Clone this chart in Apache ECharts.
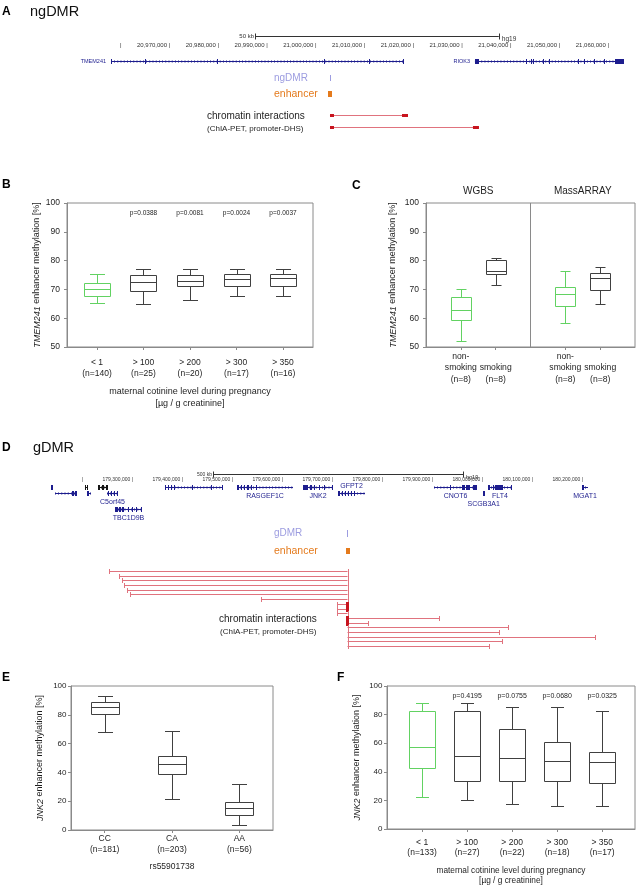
<!DOCTYPE html>
<html>
<head>
<meta charset="utf-8">
<title>ngDMR / gDMR</title>
<script src="https://cdn.jsdelivr.net/npm/echarts@6.0.0/dist/echarts.min.js"></script>
<style>
  html, body { margin: 0; padding: 0; background: #fff; }
  #chart { width: 636px; height: 886px; }
</style>
</head>
<body>
<div id="chart"></div>
<script>
// ---------- A: ngDMR locus (hg19) ----------
const aCoordTicks = [20960000, 20970000, 20980000, 20990000, 21000000, 21010000, 21020000, 21030000, 21040000, 21050000, 21060000];
const aCoordLabels = ['', '20,970,000', '20,980,000', '20,990,000', '21,000,000', '21,010,000', '21,020,000', '21,030,000', '21,040,000', '21,050,000', '21,060,000'];
const aScaleBar = [20987400, 21037400];
const aScaleLabel = '50 kb';
const aGeneName = ['TMEM241', 'RIOK3'];
const aGeneStart = [20957850, 21032510];
const aGeneEnd = [21017950, 21063080];
const aGeneExons = [
  [[20957850, 20958050], [20964820, 20965020], [20979590, 20979790], [21001540, 21001740], [21010770, 21010970], [21017750, 21017950]],
  [[21032510, 21033330], [21042970, 21043170], [21044000, 21044200], [21044410, 21044610], [21046460, 21046660], [21047690, 21047890],
   [21053640, 21053840], [21054870, 21055070], [21056920, 21057120], [21058970, 21059170], [21061230, 21063080]]
];
const aDmr = [21002700, 21002900];
const aEnhancer = [21002400, 21003200];
const aLinkStart = [21002770, 21002770];
const aLinkEnd = [21018770, 21033330];

// ---------- B: TMEM241 enhancer vs cotinine ----------
const bCats = ['< 1', '> 100', '> 200', '> 300', '> 350'];
const bN = ['(n=140)', '(n=25)', '(n=20)', '(n=17)', '(n=16)'];
const bP = ['', 'p=0.0388', 'p=0.0081', 'p=0.0024', 'p=0.0037'];
// min, q1, median, q3, max
const bStats = [
  [65.3, 67.7, 70.3, 72.3, 75.2],
  [64.8, 69.4, 72.6, 74.9, 77.0],
  [66.3, 71.2, 72.9, 74.9, 77.0],
  [67.8, 71.3, 73.5, 75.5, 77.0],
  [67.6, 71.2, 74.0, 75.5, 77.0]
];

// ---------- C: WGBS / MassARRAY ----------
const cGroups = ['WGBS', 'MassARRAY'];
const cCats = ['non-\nsmoking', '\nsmoking', 'non-\nsmoking', '\nsmoking'];
const cN = ['(n=8)', '(n=8)', '(n=8)', '(n=8)'];
const cSlots = [1, 2, 4, 5];
const cStats = [
  [52.2, 59.4, 63.0, 67.2, 70.0],
  [71.4, 75.2, 76.3, 80.2, 80.9],
  [58.3, 64.4, 68.4, 70.7, 76.4],
  [64.8, 69.8, 73.8, 75.8, 77.8]
];

// ---------- D: gDMR locus (hg19) ----------
const dCoordTicks = [179200000, 179300000, 179400000, 179500000, 179600000, 179700000, 179800000, 179900000, 180000000, 180100000, 180200000];
const dCoordLabels = ['', '179,300,000', '179,400,000', '179,500,000', '179,600,000', '179,700,000', '179,800,000', '179,900,000', '180,000,000', '180,100,000', '180,200,000'];
const dScaleBar = [179460000, 179960000];
const dScaleLabel = '500 kb';
const dGeneName = ['', '', '', '', '', 'C5orf45', 'TBC1D9B', '', 'RASGEF1C', 'JNK2', 'GFPT2', 'CNOT6', 'SCGB3A1', 'FLT4', 'MGAT1'];
const dGeneStart = [179136000, 179144000, 179204000, 179208000, 179230000, 179248000, 179264000, 179364000, 179508000, 179640000, 179710000, 179902000, 180000000, 180010000, 180198000];
const dGeneEnd = [179140000, 179188000, 179210000, 179216000, 179250000, 179270000, 179318000, 179480000, 179620000, 179700000, 179764000, 179988000, 180003000, 180058000, 180210000];
const dGeneRow = [0, 1, 0, 1, 0, 1, 4, 0, 0, 0, 1, 0, 1, 0, 0];
const dGeneExons = [
  [[179136000, 179139000]],
  [[179178000, 179181000], [179184000, 179188000]],
  [[179204000, 179206000], [179208000, 179210000]],
  [[179208000, 179212000]],
  [[179230000, 179234000], [179238000, 179241000], [179246000, 179250000]],
  [[179250000, 179252000], [179256000, 179257000], [179261000, 179262000], [179268000, 179270000]],
  [[179264000, 179270000], [179272000, 179276000], [179278000, 179282000], [179290000, 179292000], [179298000, 179300000], [179306000, 179307000], [179316000, 179318000]],
  [[179364000, 179366000], [179370000, 179372000], [179376000, 179378000], [179382000, 179383000], [179418000, 179419000], [179456000, 179457000], [179478000, 179480000]],
  [[179508000, 179511000], [179516000, 179518000], [179522000, 179524000], [179528000, 179532000], [179536000, 179537000], [179546000, 179547000]],
  [[179640000, 179650000], [179654000, 179657000], [179662000, 179664000], [179672000, 179674000], [179682000, 179684000], [179698000, 179700000]],
  [[179710000, 179714000], [179718000, 179720000], [179724000, 179726000], [179730000, 179732000], [179736000, 179738000], [179742000, 179744000]],
  [[179934000, 179935000], [179958000, 179963000], [179966000, 179974000], [179980000, 179988000]],
  [[180000000, 180003000]],
  [[180010000, 180014000], [180020000, 180022000], [180024000, 180040000], [180056000, 180058000]],
  [[180198000, 180202000]]
];
const dDmr = [179728500, 179729500];
const dEnhancer = [179725000, 179733000];
const dLinkStart = [179252000, 179272000, 179278000, 179282000, 179288000, 179294000, 179556000, 179708000, 179708000, 179708000,
                    179729000, 179729000, 179729000, 179729000, 179729000, 179729000, 179729000];
const dLinkEnd = [179729000, 179729000, 179729000, 179729000, 179729000, 179729000, 179729000, 179729000, 179729000, 179729000,
                  179912000, 179770000, 180050000, 180032000, 180224000, 180038000, 180012000];
const dLinkAnchor = [0, 0, 0, 0, 0, 0, 0, 179729000, 179729000, 0, 179729000, 179729000, 0, 0, 0, 0, 0];

// ---------- E: JNK2 enhancer vs rs55901738 ----------
const eCats = ['CC', 'CA', 'AA'];
const eN = ['(n=181)', '(n=203)', '(n=56)'];
const eStats = [
  [68.1, 80.3, 85.6, 88.7, 93.1],
  [21.3, 38.9, 45.6, 51.4, 68.5],
  [3.5, 10.4, 15.0, 19.2, 31.9]
];

// ---------- F: JNK2 enhancer vs cotinine ----------
const fCats = ['< 1', '> 100', '> 200', '> 300', '> 350'];
const fN = ['(n=133)', '(n=27)', '(n=22)', '(n=18)', '(n=17)'];
const fP = ['', 'p=0.4195', 'p=0.0755', 'p=0.0680', 'p=0.0325'];
const fStats = [
  [22.1, 42.8, 57.2, 82.8, 87.9],
  [20.5, 33.5, 50.7, 82.8, 87.9],
  [17.7, 33.5, 49.5, 70.2, 85.1],
  [16.3, 33.5, 47.9, 60.7, 85.1],
  [15.8, 31.9, 47.0, 53.7, 82.3]
];

// ---------- styling ----------
const FONT = '"Liberation Sans", Arial, Helvetica, sans-serif';
const TXT = '#1e1e1e', INK = '#404040', FRAME = '#8a8a8a', GREEN = '#62d262';
const NAVY = '#1d1d8e', LINK = '#e0737e', LINK_DARK = '#c8141e', DMR = '#9c9ce0', ENH = '#e47a1c';
const px = v => Math.round(v) + 0.5;

const grid = [], xAxis = [], yAxis = [], series = [];

function addGrid(box, xa, ya) {
  const g = grid.push(Object.assign({ show: false, outerBoundsMode: 'none', containLabel: false }, box)) - 1;
  const x = xAxis.push(Object.assign({ gridIndex: g }, xa)) - 1;
  const y = yAxis.push(Object.assign({ gridIndex: g }, ya)) - 1;
  return { g, x, y };
}

function track(box, dom, lanes, xa) {
  return addGrid(box,
    Object.assign({ type: 'value', min: dom[0], max: dom[1], show: false, splitLine: { show: false } }, xa || {}),
    { type: 'value', min: -0.5, max: lanes - 0.5, inverse: true, show: false, splitLine: { show: false } });
}

function custom(ax, data, renderItem, extra) {
  series.push(Object.assign({
    type: 'custom', coordinateSystem: 'cartesian2d', xAxisIndex: ax.x, yAxisIndex: ax.y,
    data, renderItem, silent: true, clip: false, animation: false
  }, extra || {}));
}

function coordAxis(ticks, labels, fs, margin) {
  return {
    show: true, position: 'top',
    axisLine: { show: false }, axisTick: { show: false }, splitLine: { show: false },
    axisLabel: {
      show: true, customValues: ticks, margin, fontSize: fs, color: '#333', align: 'right', hideOverlap: false,
      formatter: v => { const l = labels[ticks.indexOf(v)]; return (l ? l + ' ' : '') + '|'; }
    }
  };
}

function rulerItem(label, fs) {
  return function (params, api) {
    const a = api.coord([api.value(0), 0]), b = api.coord([api.value(1), 0]);
    const y = px(a[1]), st = { stroke: '#333', lineWidth: 1 };
    return { type: 'group', children: [
      { type: 'line', shape: { x1: a[0], y1: y, x2: b[0], y2: y }, style: st },
      { type: 'line', shape: { x1: px(a[0]), y1: y - 3, x2: px(a[0]), y2: y + 3 }, style: st },
      { type: 'line', shape: { x1: px(b[0]), y1: y - 3, x2: px(b[0]), y2: y + 3 }, style: st },
      { type: 'text', x: a[0] - 1, y: y, style: { text: label, align: 'right', verticalAlign: 'middle', fontSize: fs, fontFamily: FONT, fill: '#333' } },
      { type: 'text', x: b[0] + 3, y: y + 3, style: { text: 'hg19', align: 'left', verticalAlign: 'middle', fontSize: fs + 0.5, fontFamily: FONT, fill: '#333' } }
    ]};
  };
}

function geneItem(names, exons, opt) {
  return function (params, api) {
    const i = params.dataIndex;
    const a = api.coord([api.value(0), api.value(2)]), b = api.coord([api.value(1), api.value(2)]);
    const y = px(a[1]);
    const ink = (opt.ink && opt.ink[i]) || NAVY;
    const kids = [
      { type: 'line', shape: { x1: a[0], y1: y, x2: b[0], y2: y }, style: { stroke: ink, lineWidth: 1 } },
      { type: 'line', shape: { x1: a[0], y1: y, x2: b[0], y2: y }, style: { stroke: ink, lineWidth: 3, lineDash: [0.8, 2.4], opacity: 0.6 } }
    ];
    exons[i].forEach(e => {
      const s = api.coord([e[0], 0])[0], t = api.coord([e[1], 0])[0];
      kids.push({ type: 'rect', shape: { x: Math.round(s), y: y - opt.h / 2, width: Math.max(1, Math.round(t - s)), height: opt.h }, style: { fill: ink } });
    });
    if (names[i]) {
      const side = opt.side(i);
      let tx = (a[0] + b[0]) / 2, ty = y, align = 'center';
      if (side === 'left') { tx = a[0] - 5; align = 'right'; }
      else if (side === 'above') ty = y - 7;
      else if (side === 'below2') ty = y + 11;
      else ty = y + 9;
      kids.push({ type: 'text', x: tx, y: ty, style: { text: names[i], align, verticalAlign: 'middle', fontSize: opt.fs, fontFamily: FONT, fill: NAVY } });
    }
    return { type: 'group', children: kids };
  };
}

function markItem(color, h) {
  return function (params, api) {
    const a = api.coord([api.value(0), 0]), b = api.coord([api.value(1), 0]);
    return { type: 'rect', shape: { x: Math.round(a[0]), y: a[1] - h / 2, width: Math.max(1, Math.round(b[0] - a[0])), height: h }, style: { fill: color } };
  };
}

function linkItem(mode, anchors) {
  return function (params, api) {
    const i = params.dataIndex;
    const a = api.coord([api.value(0), api.value(2)]), b = api.coord([api.value(1), api.value(2)]);
    const y = px(a[1]);
    const kids = [{ type: 'line', shape: { x1: a[0], y1: y, x2: b[0], y2: y }, style: { stroke: LINK, lineWidth: 1 } }];
    if (mode === 'thick') {
      kids.push({ type: 'rect', shape: { x: a[0], y: y - 1.5, width: 4, height: 3 }, style: { fill: LINK_DARK } });
      kids.push({ type: 'rect', shape: { x: b[0] - 6, y: y - 1.5, width: 6, height: 3 }, style: { fill: LINK_DARK } });
    } else {
      [a[0], b[0]].forEach(x => kids.push({ type: 'line', shape: { x1: px(x), y1: y - 2.5, x2: px(x), y2: y + 2.5 }, style: { stroke: LINK, lineWidth: 1 } }));
      if (anchors[i]) {
        const ax = api.coord([anchors[i], 0])[0];
        kids.push({ type: 'rect', shape: { x: ax - 1.5, y: y - 2.5, width: 3, height: 5 }, style: { fill: LINK_DARK } });
      }
    }
    return { type: 'group', children: kids };
  };
}

function boxItem(boxW, capW, greenIdx) {
  return function (params, api) {
    const x = api.value(0);
    const c = [1, 2, 3, 4, 5].map(d => api.coord([x, api.value(d)]));
    const cx = px(c[0][0]);
    const lo = px(c[0][1]), q1 = px(c[1][1]), md = px(c[2][1]), q3 = px(c[3][1]), hi = px(c[4][1]);
    const st = { stroke: greenIdx.indexOf(params.dataIndex) >= 0 ? GREEN : INK, fill: 'none', lineWidth: 1 };
    const L = cx - boxW / 2, R = cx + boxW / 2;
    const ln = (x1, y1, x2, y2) => ({ type: 'line', shape: { x1, y1, x2, y2 }, style: st });
    return { type: 'group', children: [
      { type: 'rect', shape: { x: L, y: q3, width: boxW, height: q1 - q3 }, style: st },
      ln(L, md, R, md), ln(cx, q3, cx, hi), ln(cx, q1, cx, lo),
      ln(cx - capW / 2, hi, cx + capW / 2, hi), ln(cx - capW / 2, lo, cx + capW / 2, lo)
    ]};
  };
}

function valY(min, max, interval, fs, margin, name, gap) {
  return {
    type: 'value', min, max, interval,
    axisLine: { show: true, lineStyle: { color: FRAME, width: 1 } },
    axisTick: { show: true, inside: false, length: 3, lineStyle: { color: FRAME } },
    axisLabel: { color: TXT, fontSize: fs, margin, fontFamily: FONT },
    splitLine: { show: false },
    name, nameLocation: 'middle', nameGap: gap, nameRotate: 90,
    nameTextStyle: { color: TXT, fontSize: 9, fontFamily: FONT, rich: { i: { fontStyle: 'italic', fontSize: 9, fontFamily: FONT, color: TXT } } }
  };
}

function catX(min, max, slots, fmt, o) {
  return {
    type: 'value', min, max,
    axisLine: { show: true, lineStyle: { color: FRAME, width: 1 } },
    axisTick: { show: true, customValues: slots, length: 3, lineStyle: { color: FRAME } },
    axisLabel: { customValues: o.labelSlots || slots, formatter: fmt, color: TXT, fontSize: o.fs, lineHeight: o.lh, margin: o.margin, fontFamily: FONT, hideOverlap: false },
    splitLine: { show: false },
    name: o.name || '', nameLocation: 'middle', nameGap: o.gap || 0,
    nameTextStyle: { color: TXT, fontSize: o.nfs || 9, lineHeight: o.nlh || 12, fontFamily: FONT }
  };
}

// extra label-only axis laid over a grid (for p-values, group titles, crowded labels)
function extraLabels(ax, pos, min, max, slots, fmt, o) {
  xAxis.push({
    gridIndex: ax.g, type: 'value', position: pos, min, max,
    axisLine: { show: false }, axisTick: { show: false }, splitLine: { show: false },
    axisLabel: { inside: !!o.inside, customValues: slots, formatter: fmt, fontSize: o.fs, lineHeight: o.lh, margin: o.margin, color: TXT, fontFamily: FONT, hideOverlap: false }
  });
}

const slotOf = arr => arr.map((_, i) => i + 1);
const boxData = (stats, slots) => stats.map((s, i) => [slots[i]].concat(s));

// ---------- panel A tracks ----------
const aDom = [20955000, 21065000];
const aBox = { left: 97.1, width: 536.25 };
const aRuler = track(Object.assign({ top: 31, height: 10 }, aBox), aDom, 1);
custom(aRuler, [aScaleBar], rulerItem(aScaleLabel, 6));
const aGenes = track(Object.assign({ top: 56, height: 10 }, aBox), aDom, 1, coordAxis(aCoordTicks, aCoordLabels, 6, 8));
custom(aGenes, aGeneName.map((n, i) => [aGeneStart[i], aGeneEnd[i], 0]),
  geneItem(aGeneName, aGeneExons, { h: 5, fs: 5.5, side: () => 'left' }), { encode: { x: [0, 1], y: 2 } });
const aDmrT = track(Object.assign({ top: 74, height: 8 }, aBox), aDom, 1);
custom(aDmrT, [aDmr], markItem(DMR, 6));
const aEnhT = track(Object.assign({ top: 90, height: 8 }, aBox), aDom, 1);
custom(aEnhT, [aEnhancer], markItem(ENH, 6));
const aLinks = track(Object.assign({ top: 109, height: 24 }, aBox), aDom, 2);
custom(aLinks, aLinkStart.map((s, i) => [s, aLinkEnd[i], i]), linkItem('thick'), { encode: { x: [0, 1], y: 2 } });

// ---------- panel B ----------
const B = addGrid({ left: 67, top: 203, width: 246, height: 144, show: true, borderColor: FRAME, borderWidth: 1 },
  catX(0.355, 5.645, slotOf(bCats), v => bCats[v - 1] + '\n' + bN[v - 1],
    { fs: 8.5, lh: 11, margin: 10.5, name: 'maternal cotinine level during pregnancy\n[\u00b5g / g creatinine]', gap: 39, nfs: 9, nlh: 12 }),
  valY(50, 100, 10, 8.5, 7, '{i|TMEM241} enhancer methylation [%]', 25.5));
extraLabels(B, 'top', 0.355, 5.645, [2, 3, 4, 5], v => bP[v - 1], { fs: 6.5, margin: 7, inside: true });
custom(B, boxData(bStats, slotOf(bStats)), boxItem(26, 15, [0]));

// ---------- panel C ----------
const cFmt = v => cCats[cSlots.indexOf(v)] + '\n' + cN[cSlots.indexOf(v)];
const C = addGrid({ left: 426, top: 203, width: 209, height: 144, show: true, borderColor: FRAME, borderWidth: 1 },
  catX(0, 6, cSlots, cFmt, { fs: 8.6, lh: 11.5, margin: 3.5, labelSlots: [1, 4] }),
  valY(50, 100, 10, 8.5, 7, '{i|TMEM241} enhancer methylation [%]', 28.5));
extraLabels(C, 'bottom', 0, 6, [2, 5], cFmt, { fs: 8.6, lh: 11.5, margin: 3.5 });
extraLabels(C, 'top', 0, 6, [1.5, 4.5], v => cGroups[v < 3 ? 0 : 1], { fs: 10, margin: 7 });
custom(C, boxData(cStats, cSlots), boxItem(20, 10, [0, 2]), {
  markLine: { silent: true, symbol: 'none', label: { show: false }, lineStyle: { color: FRAME, type: 'solid', width: 1 }, data: [{ xAxis: 3 }] }
});

// ---------- panel D tracks ----------
const dDom = [179120000, 180280000];
const dBox = { left: 43, width: 580 };
const dRuler = track(Object.assign({ top: 468.5, height: 10 }, dBox), dDom, 1);
custom(dRuler, [dScaleBar], rulerItem(dScaleLabel, 5));
const dGenes = track(Object.assign({ top: 484.25, height: 33 }, dBox), dDom, 6, coordAxis(dCoordTicks, dCoordLabels, 5, 2.5));
const dInk = dGeneName.map((n, i) => (i === 2 || i === 4) ? '#151515' : NAVY);
custom(dGenes, dGeneName.map((n, i) => [dGeneStart[i], dGeneEnd[i], dGeneRow[i]]),
  geneItem(dGeneName, dGeneExons, { h: 5, fs: 7, ink: dInk, side: i => dGeneName[i] === 'GFPT2' ? 'above' : (dGeneName[i] === 'SCGB3A1' ? 'below2' : 'below') }),
  { encode: { x: [0, 1], y: 2 } });
const dDmrT = track(Object.assign({ top: 529.5, height: 8 }, dBox), dDom, 1);
custom(dDmrT, [dDmr], markItem(DMR, 7));
const dEnhT = track(Object.assign({ top: 547, height: 8 }, dBox), dDom, 1);
custom(dEnhT, [dEnhancer], markItem(ENH, 6));
const dLinks = track(Object.assign({ top: 568.66, height: 79.7 }, dBox), dDom, 17);
custom(dLinks, dLinkStart.map((s, i) => [s, dLinkEnd[i], i]), linkItem('caps', dLinkAnchor), { encode: { x: [0, 1], y: 2 } });

// ---------- panel E ----------
const E = addGrid({ left: 71, top: 686, width: 202, height: 144, show: true, borderColor: FRAME, borderWidth: 1 },
  catX(0.5, 3.5, slotOf(eCats), v => eCats[v - 1] + '\n' + eN[v - 1],
    { fs: 8.5, lh: 11, margin: 3.5, name: 'rs55901738', gap: 32, nfs: 8.5, nlh: 10 }),
  valY(0, 100, 20, 8, 4.5, '{i|JNK2} enhancer methylation [%]', 26.5));
custom(E, boxData(eStats, slotOf(eStats)), boxItem(28, 15, []));

// ---------- panel F ----------
const F = addGrid({ left: 387, top: 686, width: 248, height: 143, show: true, borderColor: FRAME, borderWidth: 1 },
  catX(0.22, 5.73, slotOf(fCats), v => fCats[v - 1] + '\n' + fN[v - 1],
    { fs: 8.5, lh: 10, margin: 9, name: 'maternal cotinine level during pregnancy\n[\u00b5g / g creatinine]', gap: 37, nfs: 8.3, nlh: 10 }),
  valY(0, 100, 20, 8, 4.5, '{i|JNK2} enhancer methylation [%]', 25.5));
extraLabels(F, 'top', 0.22, 5.73, [2, 3, 4, 5], v => fP[v - 1], { fs: 7, margin: 7, inside: true });
custom(F, boxData(fStats, slotOf(fStats)), boxItem(26, 13, [0]));

// ---------- free text ----------
const txt = (text, x, y, o) => ({ type: 'text', x, y, silent: true,
  style: Object.assign({ text, fill: TXT, fontFamily: FONT, fontSize: 10, align: 'left', verticalAlign: 'middle' }, o || {}) });
const bold = { fontWeight: 'bold', fontSize: 12, fill: '#000' };

const graphics = [
  txt('A', 2, 12, bold), txt('ngDMR', 30, 12, { fontSize: 14.5, fill: '#111' }),
  txt('ngDMR', 274, 78, { fill: DMR, fontSize: 10 }),
  txt('enhancer', 274, 94, { fill: ENH, fontSize: 10.5 }),
  txt('chromatin interactions', 207, 116, { fontSize: 10 }),
  txt('(ChIA-PET, promoter-DHS)', 207, 129, { fontSize: 8 }),
  txt('B', 2, 185, bold), txt('C', 352, 186, bold),
  txt('D', 2, 448, bold), txt('gDMR', 33, 448, { fontSize: 14.5, fill: '#111' }),
  txt('gDMR', 274, 533, { fill: DMR, fontSize: 10 }),
  txt('enhancer', 274, 551, { fill: ENH, fontSize: 10.5 }),
  txt('chromatin interactions', 219, 619, { fontSize: 10 }),
  txt('(ChIA-PET, promoter-DHS)', 220, 632, { fontSize: 8 }),
  txt('E', 2, 678, bold), txt('F', 337, 678, bold)
];

const chart = echarts.init(document.getElementById('chart'), null, { renderer: 'canvas' });
chart.setOption({
  animation: false,
  backgroundColor: '#fff',
  textStyle: { fontFamily: FONT },
  grid, xAxis, yAxis, series,
  graphic: { elements: graphics }
});
</script>
</body>
</html>
